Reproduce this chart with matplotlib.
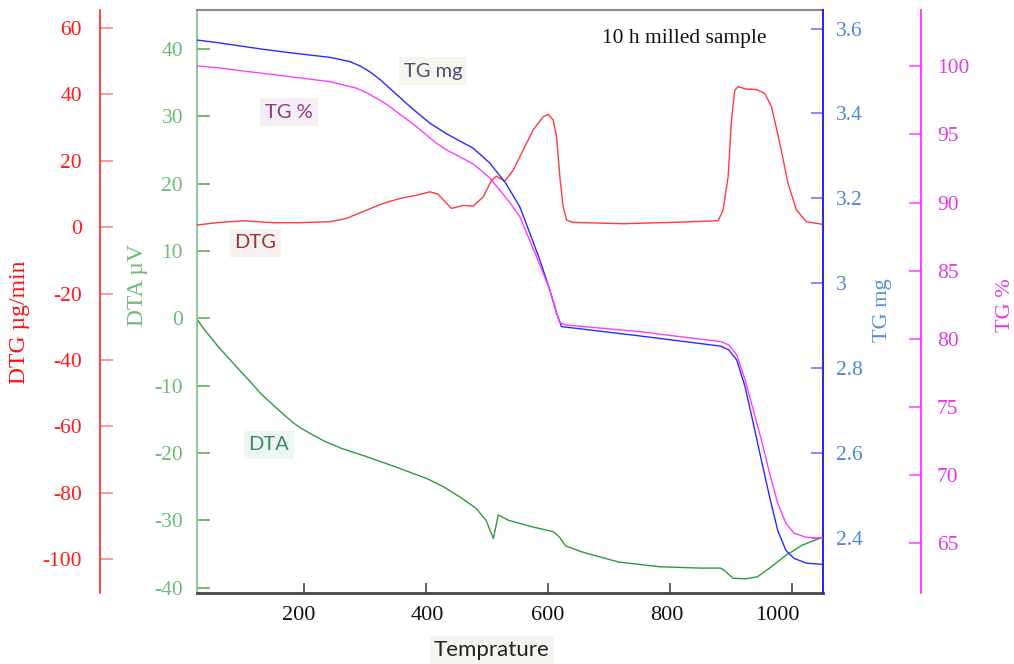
import matplotlib
matplotlib.use('Agg')
import matplotlib.pyplot as plt
from matplotlib.transforms import ScaledTranslation

plt.rcParams['axes.unicode_minus'] = False

# ---------------- data ----------------
tgmg_T = [25, 57.6, 95.8, 133.9, 177.6, 243, 275.7, 292.1, 308.5, 324.8, 341, 374, 406.6, 433.9,
          477.5, 504.8, 531, 553.8, 570.2, 586.5, 602.9, 614, 622, 750, 882.5, 895.8, 909, 922.5,
          935.9, 949.2, 962.6, 975.9, 989.3, 1002.7, 1022.7, 1049]
tgmg_v = [3.573, 3.567, 3.559, 3.551, 3.543, 3.532, 3.522, 3.512, 3.498, 3.480, 3.459, 3.416, 3.377,
          3.352, 3.318, 3.283, 3.235, 3.180, 3.118, 3.055, 2.984, 2.929, 2.898, 2.876, 2.852, 2.843,
          2.819, 2.756, 2.670, 2.583, 2.497, 2.418, 2.371, 2.352, 2.341, 2.338]

tgpc_T = [25, 57.6, 95.8, 177.6, 243, 286.6, 303, 319.2, 335.8, 351.9, 384.6, 417.3, 433.9, 477.5,
          504.8, 537.5, 553.8, 581, 602.9, 619.2, 630, 750, 882.5, 895.8, 909, 922.5, 935.9, 949.2,
          962.6, 975.9, 989.3, 1002.7, 1022.7, 1049]
tgpc_v = [100.02, 99.9, 99.68, 99.24, 98.87, 98.39, 98.06, 97.65, 97.21, 96.67, 95.57, 94.35, 93.86,
          92.83, 91.8, 89.99, 88.96, 86.03, 83.58, 81.18, 81.01, 80.52, 79.79, 79.55, 78.81, 76.98,
          74.78, 72.57, 70.13, 67.93, 66.46, 65.73, 65.43, 65.38]

dtg_T = [25, 57.6, 101.2, 150, 194, 243, 270, 303, 330, 357.5, 385, 406.6, 420, 434, 442, 461,
         477.5, 494, 507.6, 515.7, 521.2, 529.3, 543, 559.3, 575.6, 592, 600.2, 608.4, 613.9,
         619.3, 624.7, 630.3, 641.1, 723, 821, 878.3, 886.5, 894.7, 900.2, 905.6, 911, 924.8,
         941.1, 954.7, 965.7, 979.3, 992.8, 1006.6, 1022.9, 1050]
dtg_v = [0.6, 1.3, 1.9, 1.3, 1.3, 1.6, 2.6, 5.1, 7.1, 8.6, 9.6, 10.6, 9.9, 7.1, 5.6, 6.5,
         6.3, 9.1, 14.1, 15.3, 14.6, 13.9, 17.1, 23.2, 29.2, 33.2, 33.9, 32.2, 27.2,
         15.1, 6.1, 2.1, 1.4, 1.0, 1.5, 1.9, 5.1, 15.1, 32.2, 41.2, 42.2, 41.5,
         41.4, 40.2, 36.2, 25.2, 13.1, 5.1, 1.6, 0.8]

dta_T = [26.4, 36, 47.7, 60, 81, 97, 114.5, 130, 147.9, 161.2, 181.3, 195, 214.7, 235, 261.4,
         301.5, 348.2, 401.7, 428.4, 455.1, 481.8, 498.5, 510.5, 518.5, 535.2, 575.3, 608.7,
         618.7, 628.7, 655.4, 715.5, 782.3, 849.1, 882.5, 889.2, 902.5, 922.5, 942.6, 962.6,
         989.3, 1016, 1049.4]
dta_v = [-0.25, -1.5, -2.8, -4.2, -6.3, -7.9, -9.6, -11.2, -12.7, -13.8, -15.4, -16.3, -17.3,
         -18.3, -19.3, -20.5, -22.0, -23.8, -25.0, -26.5, -28.2, -30.0, -32.7, -29.2, -30.0,
         -31.0, -31.7, -32.5, -33.8, -34.7, -36.2, -36.9, -37.1, -37.1, -37.5, -38.6, -38.7,
         -38.4, -37.1, -35.2, -33.7, -32.5]

x_ticks = [200, 400, 600, 800, 1000]
dtg_ticks = [-100, -80, -60, -40, -20, 0, 20, 40, 60]
dta_ticks = [-40, -30, -20, -10, 0, 10, 20, 30, 40]
tgmg_ticks = [2.4, 2.6, 2.8, 3.0, 3.2, 3.4, 3.6]
tgmg_labels = ['2.4', '2.6', '2.8', '3', '3.2', '3.4', '3.6']
tgpc_ticks = [65, 70, 75, 80, 85, 90, 95, 100]

# ---------------- style ----------------
SERIF = ['Liberation Serif', 'DejaVu Serif']
SANS = ['Lato', 'DejaVu Sans']
W, H = 1014, 664

fig = plt.figure(figsize=(W / 100, H / 100), dpi=100)
L, R, B, T = 197 / W, 823 / W, 1 - 593 / H, 1 - 10 / H
ax = fig.add_axes([L, B, R - L, T - B])
ax_dtg = ax.twinx()
ax_mg = ax.twinx()
ax_pc = ax.twinx()

xlim = (25.4, 1050)
for a in (ax, ax_dtg, ax_mg, ax_pc):
    a.set_xlim(*xlim)

ax.set_ylim(-40.8, 45.8)
ax_dtg.set_ylim(-110.1, 65.3)
ax_mg.set_ylim(2.2706, 3.6436)
ax_pc.set_ylim(61.34, 104.13)

# lines
ax.plot(dta_T, dta_v, color='#2f9a3a', lw=1.0)
ax_dtg.plot(dtg_T, dtg_v, color='#ff3a3a', lw=1.0)
ax_mg.plot(tgmg_T, tgmg_v, color='#2a2aff', lw=1.0)
ax_pc.plot(tgpc_T, tgpc_v, color='#ff3cff', lw=1.0)

# main (DTA) axes spines
ax.spines['left'].set_color('#86c48c')
ax.spines['left'].set_linewidth(1.3)
ax.spines['top'].set_color('#8a8a8a')
ax.spines['top'].set_linewidth(1.5)
ax.spines['bottom'].set_color('#454545')
ax.spines['bottom'].set_linewidth(2.0)
ax.spines['right'].set_visible(False)

for a in (ax_dtg, ax_mg, ax_pc):
    for s in ('top', 'bottom', 'left', 'right'):
        a.spines[s].set_visible(False)

# DTG axis on far left
ax_dtg.yaxis.set_ticks_position('left')
ax_dtg.spines['left'].set_visible(True)
ax_dtg.spines['left'].set_position(('axes', (100 - 197) / 626))
ax_dtg.spines['left'].set_color('#ff2020')
ax_dtg.spines['left'].set_linewidth(1.2)

# TG mg axis at right edge
ax_mg.spines['right'].set_visible(True)
ax_mg.spines['right'].set_color('#1010ff')
ax_mg.spines['right'].set_linewidth(1.3)

# TG % axis further right
ax_pc.spines['right'].set_visible(True)
ax_pc.spines['right'].set_position(('axes', (921 - 197) / 626))
ax_pc.spines['right'].set_color('#ff20ff')
ax_pc.spines['right'].set_linewidth(1.2)

# ticks
ax.set_xticks(x_ticks)
ax.set_xticklabels([str(v) for v in x_ticks])
ax.tick_params(axis='x', direction='in', length=7.5, width=1.3, color='#555555',
               labelsize=16, labelcolor='#111111', pad=9)
ax.set_yticks(dta_ticks)
ax.tick_params(axis='y', direction='in', length=9, width=1.1, color='#4aa84f',
               labelsize=15.5, labelcolor='#6cbb74', pad=10)

ax_dtg.set_yticks(dtg_ticks)
ax_dtg.tick_params(axis='y', direction='in', length=9, width=1.1, color='#ff7a7a',
                   labelsize=15.5, labelcolor='#ff1a1a', pad=13)

ax_mg.set_yticks(tgmg_ticks)
ax_mg.set_yticklabels(tgmg_labels)
ax_mg.tick_params(axis='y', direction='in', length=8.5, width=1.1, color='#6a6aff',
                  labelsize=15.5, labelcolor='#4f86d2', pad=9.5)

ax_pc.set_yticks(tgpc_ticks)
ax_pc.tick_params(axis='y', direction='in', length=8.5, width=1.1, color='#ff40ff',
                  labelsize=15.5, labelcolor='#e63ae6', pad=11.5)

for a in (ax, ax_dtg, ax_mg, ax_pc):
    for lab in a.get_xticklabels() + a.get_yticklabels():
        lab.set_family(SERIF)

# small horizontal offsets of the x tick labels (pixels)
x_label_dx = [-4.7, 1.0, 0.0, -3.0, -15.0]
for lab, dx in zip(ax.get_xticklabels(), x_label_dx):
    lab.set_transform(lab.get_transform() + ScaledTranslation(dx / 100, 0, fig.dpi_scale_trans))


def fx(px):
    return px / W


def fy(py):
    return 1 - py / H


# axis titles
fig.text(fx(20), fy(322), 'DTG µg/min', rotation=90, color='#ff1010', family=SERIF,
         fontsize=17, ha='center', va='center')
fig.text(fx(137.5), fy(285), 'DTA µV', rotation=90, color='#6cbb74', family=SERIF,
         fontsize=17, ha='center', va='center')
fig.text(fx(883), fy(310), 'TG mg', rotation=90, color='#5a8fd6', family=SERIF,
         fontsize=16, ha='center', va='center')
fig.text(fx(1006), fy(305), 'TG %', rotation=90, color='#e63ae6', family=SERIF,
         fontsize=16, ha='center', va='center')

fig.text(fx(684), fy(38), '10 h milled sample', color='#111111', family=SERIF,
         fontsize=15.5, ha='center', va='center')

# in-plot curve labels
fig.text(fx(433), fy(71), 'TG mg', color='#4e4e72', family=SANS, fontsize=14.5,
         ha='center', va='center',
         bbox=dict(boxstyle='square,pad=0.25', facecolor='#f6f6ef', edgecolor='none'))
fig.text(fx(289), fy(112), 'TG %', color='#8e3c82', family=SANS, fontsize=14.5,
         ha='center', va='center',
         bbox=dict(boxstyle='square,pad=0.25', facecolor='#f5eef5', edgecolor='none'))
fig.text(fx(255), fy(243), 'DTG', color='#9a3636', family=SANS, fontsize=14.5,
         ha='center', va='center',
         bbox=dict(boxstyle='square,pad=0.25', facecolor='#f7f2f2', edgecolor='none'))
fig.text(fx(269), fy(445), 'DTA', color='#3f8a62', family=SANS, fontsize=14.5,
         ha='center', va='center',
         bbox=dict(boxstyle='square,pad=0.25', facecolor='#eef6f1', edgecolor='none'))
fig.text(fx(492), fy(650), 'Temprature', color='#222222', family=SANS, fontsize=16,
         ha='center', va='center',
         bbox=dict(boxstyle='square,pad=0.2', facecolor='#f5f6f2', edgecolor='none'))

fig.savefig('out.png', dpi=100)
